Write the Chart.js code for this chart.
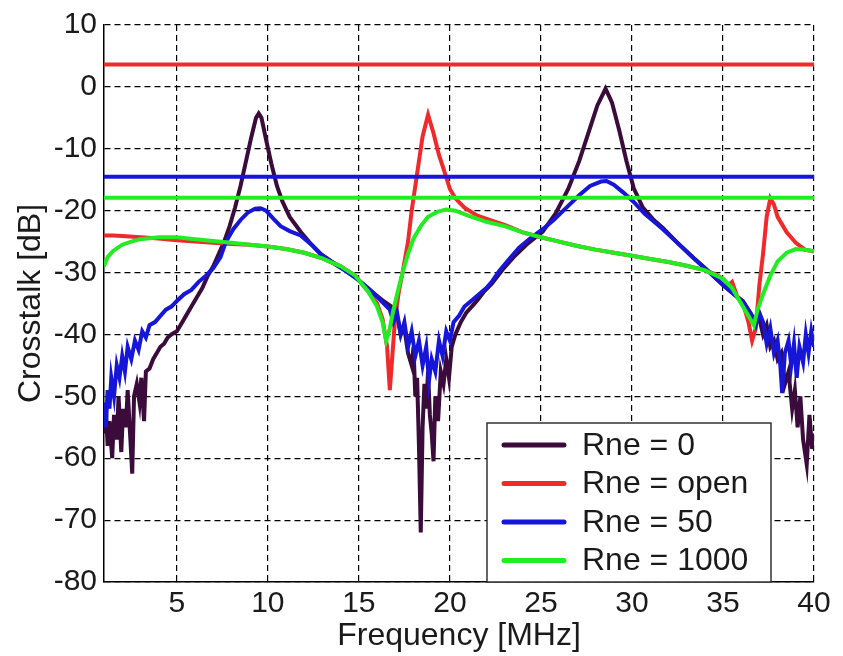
<!DOCTYPE html>
<html>
<head>
<meta charset="utf-8">
<script src="https://cdn.jsdelivr.net/npm/chart.js@4"></script>
<style>
  body { margin: 0; background: #fff; }
  canvas { display: block; }
</style>
</head>
<body>
<canvas id="crosstalkChart" width="843" height="656"></canvas>
<script>
// Series values: [frequency MHz, crosstalk dB]
const rneZero = [
  [1.0, -56], [1.1, -52], [1.2, -58], [1.3, -54], [1.45, -60], [1.55, -53], [1.7, -57],
  [1.8, -50], [1.95, -59], [2.05, -52], [2.2, -55], [2.3, -49], [2.45, -57], [2.55, -62.5],
  [2.65, -50], [2.8, -48], [2.95, -51], [3.05, -47], [3.2, -54], [3.3, -46], [3.5, -45.5],
  [3.7, -44], [3.9, -43], [4.1, -42], [4.3, -41.5], [4.5, -40.5], [4.7, -40], [5.0, -39.5],
  [5.2, -38.5], [5.5, -37], [5.8, -35.5], [6.1, -34], [6.4, -32.5], [6.7, -30.5], [7.0, -29],
  [7.3, -27], [7.6, -25], [7.9, -22.5], [8.2, -19.5], [8.5, -16], [8.8, -12], [9.1, -8],
  [9.35, -5], [9.5, -4.3], [9.65, -5], [9.9, -8.5], [10.2, -12.5], [10.5, -16], [10.8, -18.5],
  [11.2, -21], [11.8, -23.4], [12.4, -25.5], [12.9, -27], [13.5, -28.2], [14.2, -29.5],
  [14.8, -30.8], [15.3, -32], [15.8, -33.3], [16.3, -34.5], [16.8, -35.5], [17.1, -37],
  [17.3, -40], [17.5, -39], [17.7, -43], [17.9, -45], [18.0, -42], [18.1, -50], [18.2, -47],
  [18.3, -58], [18.4, -72], [18.5, -55], [18.6, -48], [18.7, -52], [18.8, -46], [18.9, -53],
  [19.0, -56], [19.1, -60.5], [19.2, -50], [19.35, -54], [19.5, -46], [19.65, -48], [19.8, -44],
  [19.95, -47], [20.1, -42], [20.3, -40], [20.6, -38], [20.9, -36.5], [21.2, -35.5],
  [21.5, -34.5], [21.9, -33], [22.3, -31.8], [22.9, -29.5], [23.5, -27.5], [24.2, -25.5],
  [25.1, -23.4], [25.8, -20.5], [26.5, -16.5], [27.1, -12], [27.6, -7.5], [28.1, -3],
  [28.55, -0.3], [28.9, -2.5], [29.3, -7], [29.7, -12], [30.1, -16.4], [30.6, -19.5],
  [31.2, -21.5], [31.7, -22.8], [32.5, -25.2], [33.4, -27.7], [34.2, -29.8], [35.0, -32],
  [35.6, -33.5], [36.1, -34.6], [36.5, -36.5], [36.8, -38], [37.0, -37.5], [37.2, -40],
  [37.4, -38.5], [37.6, -42], [37.8, -41], [38.0, -44], [38.2, -43], [38.4, -48], [38.6, -46],
  [38.8, -52], [38.95, -49], [39.1, -55], [39.25, -50], [39.4, -57], [39.6, -61], [39.75, -53],
  [39.9, -58.5], [40.0, -56]
];

const rneOpen = [
  [1.0, -24], [1.5, -24], [2.0, -24.1], [3.0, -24.3], [4.0, -24.5], [5.0, -24.8], [6.0, -25],
  [7.0, -25.2], [8.0, -25.4], [9.0, -25.5], [10.0, -25.8], [11.0, -26.2], [12.0, -26.8],
  [13.0, -27.7], [14.0, -29], [14.8, -30.5], [15.5, -33], [16.0, -35], [16.3, -37.5],
  [16.55, -42], [16.7, -49], [16.85, -43], [17.0, -37], [17.2, -33], [17.4, -30], [17.7, -25],
  [17.9, -20], [18.2, -14], [18.5, -8], [18.8, -4.5], [19.1, -7.5], [19.4, -11], [19.7, -13.7],
  [20.0, -16.5], [20.3, -18], [20.8, -19.5], [21.5, -20.8], [22.3, -21.6], [23.0, -22.3],
  [24.0, -23.5], [25.0, -24.3], [26.0, -25], [27.0, -25.7], [28.0, -26.3], [29.0, -26.8],
  [30.0, -27.3], [31.0, -27.8], [32.0, -28.3], [33.0, -28.9], [34.0, -29.6], [34.6, -30.3],
  [35.0, -31], [35.3, -32], [35.5, -31.5], [35.8, -34], [36.1, -35], [36.4, -38], [36.6, -41],
  [36.8, -39], [37.0, -32], [37.2, -27], [37.4, -21], [37.6, -18], [37.8, -19], [38.0, -21],
  [38.5, -23.5], [39.0, -25.2], [39.5, -26.3], [40.0, -26.6]
];

const rneFifty = [
  [1.0, -51], [1.1, -55], [1.2, -49], [1.3, -52], [1.4, -47], [1.55, -50], [1.7, -45],
  [1.85, -47], [2.0, -43.5], [2.15, -46], [2.3, -42], [2.5, -44], [2.7, -41], [2.9, -42.5],
  [3.1, -39.5], [3.3, -40.5], [3.5, -38.5], [3.8, -38], [4.1, -37], [4.4, -36], [4.7, -35.5],
  [5.0, -34.6], [5.4, -33.5], [5.8, -32.8], [6.2, -31.5], [6.6, -30.5], [7.0, -29.3],
  [7.4, -27.5], [7.7, -25], [8.1, -23], [8.5, -21.5], [8.9, -20.3], [9.3, -19.7], [9.6, -19.6],
  [9.9, -20], [10.3, -21.3], [10.7, -22.5], [11.2, -23.3], [11.8, -24], [12.4, -25.5],
  [12.9, -27], [13.5, -28.3], [14.2, -29.6], [14.8, -30.8], [15.3, -32], [15.8, -33.3],
  [16.3, -34.8], [16.7, -36], [16.9, -38], [17.1, -36.5], [17.3, -40], [17.5, -38], [17.7, -42],
  [17.9, -39.5], [18.1, -43.5], [18.3, -41], [18.5, -45], [18.7, -42], [18.85, -47.5],
  [19.0, -44], [19.2, -46], [19.4, -41], [19.6, -43.5], [19.8, -39.5], [20.0, -41], [20.2, -38],
  [20.5, -37], [20.8, -35.5], [21.2, -34.5], [21.6, -33.5], [22.0, -32.5], [22.3, -31.5],
  [22.7, -29.8], [23.2, -28], [23.8, -26], [24.4, -24.5], [25.1, -23], [25.7, -21.5],
  [26.4, -19.5], [27.1, -17.5], [27.7, -16], [28.3, -15.3], [28.6, -15.2], [29.0, -15.8],
  [29.5, -17], [30.1, -18.6], [30.7, -20.5], [31.3, -22], [31.7, -23], [32.5, -25.2],
  [33.4, -27.7], [34.2, -29.8], [35.0, -32], [35.6, -33.5], [36.1, -34.8], [36.5, -36.5],
  [36.8, -38.5], [37.0, -36.5], [37.2, -38], [37.4, -41.5], [37.6, -39], [37.8, -43],
  [38.0, -41], [38.15, -45], [38.25, -49.5], [38.4, -43], [38.6, -41], [38.75, -45],
  [38.9, -41.5], [39.05, -47], [39.2, -42], [39.4, -44.5], [39.55, -40], [39.7, -43],
  [39.85, -39.5], [40.0, -42]
];

const rneThousand = [
  [1.0, -29], [1.2, -27.5], [1.5, -26.5], [2.0, -25.5], [2.5, -25], [3.0, -24.6], [4.0, -24.3],
  [5.0, -24.3], [6.0, -24.6], [7.0, -24.9], [8.0, -25.2], [9.0, -25.5], [10.0, -25.8],
  [11.0, -26.2], [12.0, -26.8], [13.0, -27.7], [14.0, -29], [14.8, -30.5], [15.5, -33],
  [16.0, -35.5], [16.3, -38], [16.5, -41], [16.7, -39], [16.9, -36], [17.1, -33.5], [17.4, -30],
  [17.7, -27], [18.0, -24.5], [18.4, -22.5], [18.8, -21], [19.3, -20.2], [19.8, -19.8],
  [20.3, -20], [21.0, -20.8], [22.0, -21.8], [23.0, -22.5], [24.0, -23.5], [25.0, -24.3],
  [26.0, -25], [27.0, -25.7], [28.0, -26.3], [29.0, -26.8], [30.0, -27.3], [31.0, -27.8],
  [32.0, -28.3], [33.0, -28.9], [34.0, -29.6], [35.0, -31], [35.5, -32.5], [35.9, -34.5],
  [36.2, -36], [36.5, -37.5], [36.7, -38.5], [36.9, -36], [37.2, -33.5], [37.6, -30.5],
  [38.0, -28.2], [38.5, -26.8], [39.0, -26.2], [39.5, -26.3], [40.0, -26.5]
];

// Flat reference levels (same colours as the curves)
const flatOpen = [[1, 3.6], [40, 3.6]];
const flatFifty = [[1, -14.5], [40, -14.5]];
const flatThousand = [[1, -17.9], [40, -17.9]];

const legendLabels = ["Rne = 0", "Rne = open", "Rne = 50", "Rne = 1000"];
const freqTicks = [5, 10, 15, 20, 25, 30, 35, 40];

const colors = ["#3b0b3b", "#f02a2a", "#1616d8", "#22ec22"];
const fontFamily = "'Liberation Sans', Arial, sans-serif";

const toPoints = (arr) => arr.map((p) => ({ x: p[0], y: p[1] }));

function curve(label, data, color, order) {
  return {
    label: label,
    data: toPoints(data),
    borderColor: color,
    backgroundColor: color,
    borderWidth: 4,
    pointRadius: 0,
    tension: 0,
    order: order,
  };
}

// Legend box drawn inside the plot, bottom right
const boxLegend = {
  id: "boxLegend",
  afterDraw(chart) {
    const ctx = chart.ctx;
    const area = chart.chartArea;
    const w = 284, h = 159;
    const x0 = area.right - 43 - w;
    const y0 = area.bottom - h;
    ctx.save();
    ctx.fillStyle = "#fff";
    ctx.fillRect(x0, y0, w, h);
    ctx.strokeStyle = "#333";
    ctx.lineWidth = 1.5;
    ctx.strokeRect(x0, y0, w, h);
    ctx.font = "32px " + fontFamily;
    ctx.textBaseline = "middle";
    ctx.fillStyle = "#1a1a1a";
    for (let i = 0; i < 4; i++) {
      const ds = chart.data.datasets[i];
      const y = y0 + 22 + i * 38.5;
      ctx.strokeStyle = ds.borderColor;
      ctx.lineWidth = 5;
      ctx.lineCap = "round";
      ctx.beginPath();
      ctx.moveTo(x0 + 17, y);
      ctx.lineTo(x0 + 77, y);
      ctx.stroke();
      ctx.fillText(ds.label, x0 + 95, y + 1);
    }
    ctx.restore();
  },
};

const ctx = document.getElementById("crosstalkChart").getContext("2d");

new Chart(ctx, {
  type: "line",
  data: {
    datasets: [
      curve(legendLabels[0], rneZero, colors[0], 4),
      curve(legendLabels[1], rneOpen, colors[1], 3),
      curve(legendLabels[2], rneFifty, colors[2], 2),
      curve(legendLabels[3], rneThousand, colors[3], 1),
      curve("open level", flatOpen, colors[1], 0),
      curve("50 level", flatFifty, colors[2], 0),
      curve("1000 level", flatThousand, colors[3], 0),
    ],
  },
  options: {
    responsive: false,
    animation: false,
    layout: { padding: { top: 23, right: 29, left: 0, bottom: 0 } },
    plugins: {
      legend: { display: false },
      tooltip: { enabled: false },
    },
    scales: {
      x: {
        type: "linear",
        min: 1,
        max: 40,
        afterBuildTicks: (scale) => {
          scale.ticks = freqTicks.map((v) => ({ value: v }));
        },
        afterFit: (scale) => {
          scale.height = 74;
        },
        ticks: {
          color: "#1a1a1a",
          padding: 4,
          maxRotation: 0,
          font: { family: fontFamily, size: 30 },
        },
        grid: { color: "#000", lineWidth: 1.2, drawTicks: false },
        border: { display: true, color: "#000", width: 1.5, dash: [6, 4] },
        title: {
          display: true,
          text: "Frequency [MHz]",
          color: "#1a1a1a",
          font: { family: fontFamily, size: 32 },
          padding: { top: 0, bottom: 1 },
        },
      },
      y: {
        min: -80,
        max: 10,
        afterFit: (scale) => {
          scale.width = 104;
        },
        ticks: {
          stepSize: 10,
          color: "#1a1a1a",
          padding: 7,
          font: { family: fontFamily, size: 30 },
        },
        grid: { color: "#000", lineWidth: 1.2, drawTicks: false },
        border: { display: true, color: "#000", width: 1.5, dash: [6, 4] },
        title: {
          display: true,
          text: "Crosstalk [dB]",
          color: "#1a1a1a",
          font: { family: fontFamily, size: 32 },
          padding: { top: 12, bottom: 0 },
        },
      },
    },
  },
  plugins: [boxLegend],
});
</script>
</body>
</html>
